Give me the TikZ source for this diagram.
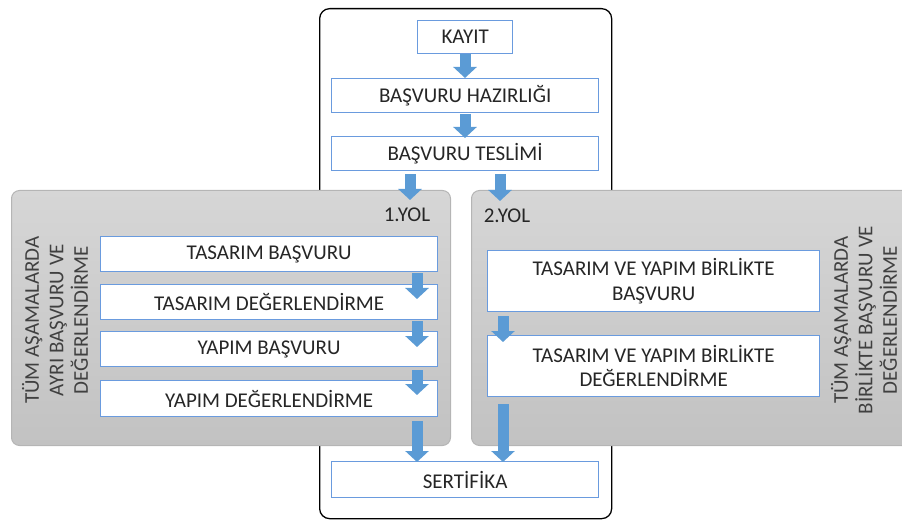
\documentclass[tikz,border=0pt]{standalone}
\usepackage{fontspec}
\setmainfont{Carlito}
\usetikzlibrary{arrows.meta,calc}
\definecolor{boxblue}{HTML}{6A9BDE}
\definecolor{arrblue}{HTML}{5B9BD5}
\definecolor{txt}{HTML}{262626}
\definecolor{txtb}{HTML}{404040}
\definecolor{paneltop}{HTML}{D6D6D6}
\definecolor{panelbot}{HTML}{C2C2C2}
\definecolor{panelline}{HTML}{B5B5B5}
\begin{document}
\begin{tikzpicture}[x=1pt,y=-1pt,font=\fontsize{21}{24.5}\selectfont,
  stepbox/.style={draw=boxblue,line width=1.3pt,fill=white,inner sep=0pt,text=txt,align=center,anchor=north west},
  panel/.style={draw=panelline,line width=1pt,rounded corners=8pt,top color=paneltop,bottom color=panelbot,anchor=north west,inner sep=0pt},
  frame/.style={draw=black,line width=1.3pt,rounded corners=10pt,anchor=north west,inner sep=0pt},
  barrow/.style={draw=arrblue,line width=11pt,-{Triangle[width=23pt,length=11pt]}},
  sidelabel/.style={rotate=90,text=txtb,align=center,inner sep=0pt}]
\useasboundingbox (0,0) rectangle (902,521);
% outer frame
\node[frame,minimum width=292pt,minimum height=510pt] (outer) at (319,8) {};
% panels
\node[panel,minimum width=439pt,minimum height=255pt] (lpanel) at (11,190) {};
\node[panel,minimum width=450pt,minimum height=255pt] (rpanel) at (471,190) {};
% top boxes
\node[stepbox,minimum width=95pt,minimum height=33pt] (kayit) at (417,20) {KAYIT};
\node[stepbox,minimum width=267pt,minimum height=34pt] (hazir) at (331,78) {BAŞVURU HAZIRLIĞI};
\node[stepbox,minimum width=267pt,minimum height=34pt] (teslim) at (331,136) {BAŞVURU TESLİMİ};
% path labels
\node[text=txt] (yol1) at (407,215) {1.YOL};
\node[text=txt] (yol2) at (507,216) {2.YOL};
% left boxes
\node[stepbox,minimum width=337pt,minimum height=35pt] (tb) at (100,236) {TASARIM BAŞVURU};
\node[stepbox,minimum width=337pt,minimum height=35pt] (td) at (100,284) {TASARIM DEĞERLENDİRME};
\node[stepbox,minimum width=337pt,minimum height=35pt] (yb) at (100,331) {YAPIM BAŞVURU};
\node[stepbox,minimum width=337pt,minimum height=36pt] (yd) at (100,380) {YAPIM DEĞERLENDİRME};
% right boxes
\node[stepbox,minimum width=332pt,minimum height=61pt] (rb) at (487,250) {TASARIM VE YAPIM BİRLİKTE\\BAŞVURU};
\node[stepbox,minimum width=332pt,minimum height=61pt] (rd) at (487,335) {TASARIM VE YAPIM BİRLİKTE\\DEĞERLENDİRME};
% certificate
\node[stepbox,minimum width=267pt,minimum height=36pt] (sert) at (331,461) {SERTİFİKA};
% side labels
\node[sidelabel] (llab) at (55,320) {TÜM AŞAMALARDA\\AYRI BAŞVURU VE\\DEĞERLENDİRME};
\node[sidelabel] (rlab) at (864,320) {TÜM AŞAMALARDA\\BİRLİKTE BAŞVURU VE\\DEĞERLENDİRME};
% arrow columns
\coordinate (cx) at (465,0);
\coordinate (ax1) at (410,0);
\coordinate (ax2) at (500,0);
\coordinate (lx) at (417,0);
\coordinate (rx) at (503,0);
% arrows
\draw[barrow] (cx |- kayit.south) -- (cx |- hazir.north);
\draw[barrow] ($(cx |- hazir.south)+(0,1)$) -- ($(cx |- teslim.north)+(0,2)$);
\draw[barrow] ($(ax1 |- teslim.south)+(0,3)$) -- ($(ax1 |- lpanel.north)+(0,10)$);
\draw[barrow] ($(ax2 |- teslim.south)+(0,3)$) -- ($(ax2 |- rpanel.north)+(0,11)$);
\draw[barrow] ($(lx |- tb.south)+(0,1)$) -- ($(lx |- td.north)+(0,15)$);
\draw[barrow] ($(lx |- td.south)+(0,1)$) -- ($(lx |- yb.north)+(0,16)$);
\draw[barrow] ($(lx |- yb.south)+(0,3)$) -- ($(lx |- yd.north)+(0,15)$);
\draw[barrow] ($(lx |- yd.south)+(0,4)$) -- ($(lx |- sert.north)+(0,1)$);
\draw[barrow] ($(rx |- rb.south)+(0,4)$) -- ($(rx |- rd.north)+(0,7)$);
\draw[barrow] ($(rx |- rd.south)+(0,7)$) -- ($(rx |- sert.north)+(0,1)$);
\end{tikzpicture}
\end{document}
